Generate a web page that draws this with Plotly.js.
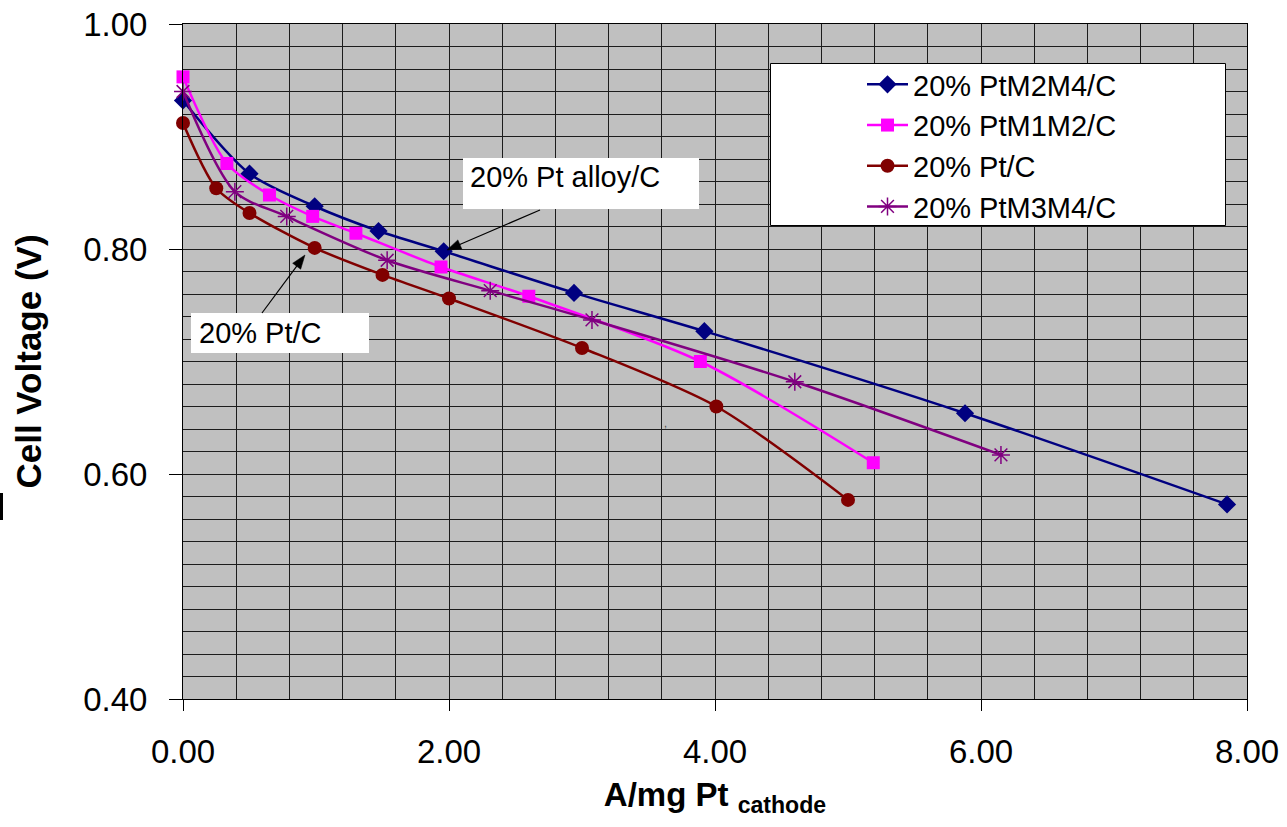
<!DOCTYPE html>
<html>
<head>
<meta charset="utf-8">
<script src="https://cdn.plot.ly/plotly-3.0.1.min.js"></script>
<style>html,body{margin:0;padding:0;background:#fff;}#chart{width:1287px;height:827px;}</style>
</head>
<body>
<div id="chart"></div>
<script>
// ---- data ----
const seriesNames = ["20% PtM2M4/C", "20% PtM1M2/C", "20% Pt/C", "20% PtM3M4/C"];

const ptM2M4X = [0.00, 0.50, 0.99, 1.47, 1.96, 2.94, 3.92, 5.88, 7.85];
const ptM2M4Y = [0.932, 0.867, 0.838, 0.816, 0.798, 0.761, 0.727, 0.654, 0.573];

const ptM1M2X = [0.00, 0.33, 0.65, 0.975, 1.30, 1.94, 2.60, 3.89, 5.19];
const ptM1M2Y = [0.953, 0.876, 0.848, 0.829, 0.814, 0.784, 0.758, 0.700, 0.610];

const ptCX = [0.00, 0.25, 0.50, 0.99, 1.50, 2.00, 3.00, 4.01, 5.00];
const ptCY = [0.912, 0.854, 0.832, 0.801, 0.777, 0.756, 0.712, 0.660, 0.577];

const ptM3M4X = [0.00, 0.39, 0.78, 1.535, 2.31, 3.075, 4.60, 6.15];
const ptM3M4Y = [0.940, 0.851, 0.829, 0.790, 0.763, 0.737, 0.682, 0.617];

const xTitle = "A/mg Pt <sub>cathode</sub>";
const yTitle = "Cell Voltage (V)";
const calloutAlloy = "20% Pt alloy/C";
const calloutPt = "20% Pt/C";

// ---- layout helpers ----
const FONT = 'Arial, "Liberation Sans", sans-serif';
const L = 183, R = 1247, T = 24, B = 699;
const px = v => (v - L) / (R - L);
const py = v => (B - v) / (B - T);

function trace(x, y, name, color, symbol, size, extra) {
  const t = {
    type: 'scatter', mode: 'lines+markers', x: x, y: y, name: name,
    line: {color: color, width: 2.5, shape: 'spline', smoothing: 0.8},
    marker: {color: color, symbol: symbol, size: size},
    cliponaxis: false
  };
  return Object.assign(t, extra || {});
}

const data = [
  trace(ptM2M4X, ptM2M4Y, seriesNames[0], '#000080', 'diamond', 14),
  trace(ptM1M2X, ptM1M2Y, seriesNames[1], '#FF00FF', 'square', 13),
  trace(ptCX, ptCY, seriesNames[2], '#800000', 'circle', 14),
  trace(ptM3M4X, ptM3M4Y, seriesNames[3], '#800080', 'asterisk-open', 15,
        {marker: {color: '#800080', symbol: 'asterisk-open', size: 15, line: {color: '#800080', width: 1.5}}})
];

// arrow drawn as a line + filled head (pixel geometry -> paper coords)
function arrowShapes(tailX, tailY, tipX, tipY) {
  const dx = tipX - tailX, dy = tipY - tailY, len = Math.hypot(dx, dy);
  const ux = dx / len, uy = dy / len, nx = -uy, ny = ux;
  const hl = 14, hw = 5;
  const bx = tipX - ux * hl, by = tipY - uy * hl;
  const p = (a, b) => px(a).toFixed(5) + ',' + py(b).toFixed(5);
  return [
    {type: 'line', xref: 'paper', yref: 'paper', x0: px(tailX), y0: py(tailY), x1: px(bx + ux * 2), y1: py(by + uy * 2),
     line: {color: '#000', width: 1.2}, layer: 'above'},
    {type: 'path', xref: 'paper', yref: 'paper',
     path: 'M' + p(tipX, tipY) + ' L' + p(bx + nx * hw, by + ny * hw) + ' L' + p(bx - nx * hw, by - ny * hw) + ' Z',
     fillcolor: '#000', line: {color: '#000', width: 0.5}, layer: 'above'}
  ];
}

const gridCol = '#1c1c1c';

const layout = {
  width: 1287, height: 827,
  margin: {l: L, r: 1287 - R, t: T, b: 827 - B, pad: 0},
  paper_bgcolor: '#ffffff',
  plot_bgcolor: '#C0C0C0',
  font: {family: FONT, color: '#000'},
  showlegend: true,
  legend: {
    x: px(862), y: py(59), xanchor: 'left', yanchor: 'top',
    bgcolor: 'rgba(0,0,0,0)', borderwidth: 0,
    font: {family: FONT, size: 29, color: '#000'},
    itemwidth: 41, tracegroupgap: 0
  },
  xaxis: {
    range: [0, 8], tick0: 0, dtick: 2, tickformat: '.2f',
    showgrid: true, gridcolor: gridCol, gridwidth: 1,
    minor: {dtick: 0.4, showgrid: true, gridcolor: gridCol, gridwidth: 1, ticks: ''},
    showline: true, linecolor: '#000', linewidth: 1, mirror: true,
    ticks: 'outside', ticklen: 11, tickcolor: '#000', tickwidth: 1,
    ticklabelstandoff: 12,
    tickfont: {family: FONT, size: 33, color: '#000'},
    zeroline: false, automargin: false,
    title: {text: xTitle, font: {family: FONT, size: 33, color: '#000', weight: 'bold'}, standoff: 14}
  },
  yaxis: {
    range: [0.4, 1.0], tick0: 0.4, dtick: 0.2, tickformat: '.2f',
    showgrid: true, gridcolor: gridCol, gridwidth: 1,
    minor: {dtick: 0.02, showgrid: true, gridcolor: gridCol, gridwidth: 1, ticks: ''},
    showline: true, linecolor: '#000', linewidth: 1, mirror: true,
    ticks: 'outside', ticklen: 13, tickcolor: '#000', tickwidth: 1,
    ticklabelstandoff: 15,
    tickfont: {family: FONT, size: 33, color: '#000'},
    zeroline: false, automargin: false,
    title: {text: yTitle, font: {family: FONT, size: 35, color: '#000', weight: 'bold'}, standoff: 30}
  },
  shapes: [
    // legend frame
    {type: 'rect', xref: 'paper', yref: 'paper', x0: px(770.5), x1: px(1225.5), y0: py(225.5), y1: py(63.5),
     fillcolor: '#ffffff', line: {color: '#000', width: 1}, layer: 'above'},
    // callout boxes
    {type: 'rect', xref: 'paper', yref: 'paper', x0: px(463), x1: px(699), y0: py(209), y1: py(158),
     fillcolor: '#ffffff', line: {width: 0}, layer: 'above'},
    {type: 'rect', xref: 'paper', yref: 'paper', x0: px(191), x1: px(369), y0: py(353), y1: py(313),
     fillcolor: '#ffffff', line: {width: 0}, layer: 'above'},
    // small dark mark at the far left
    {type: 'rect', xref: 'paper', yref: 'paper', x0: px(0), x1: px(3), y0: py(520), y1: py(493),
     fillcolor: '#000', line: {width: 0}, layer: 'above'}
  ].concat(arrowShapes(540, 210, 447, 250), arrowShapes(262, 313, 305, 255)),
  annotations: [
    {text: calloutAlloy, xref: 'paper', yref: 'paper', x: px(468), y: py(177), xanchor: 'left', yanchor: 'middle',
     showarrow: false, font: {family: FONT, size: 29, color: '#000'}},
    {text: calloutPt, xref: 'paper', yref: 'paper', x: px(197), y: py(333), xanchor: 'left', yanchor: 'middle',
     showarrow: false, font: {family: FONT, size: 29, color: '#000'}},
    {text: ',', xref: 'paper', yref: 'paper', x: px(665), y: py(423), showarrow: false,
     font: {family: FONT, size: 11, color: '#444'}}
  ]
};

Plotly.newPlot('chart', data, layout, {displayModeBar: false, staticPlot: true});
</script>
</body>
</html>
